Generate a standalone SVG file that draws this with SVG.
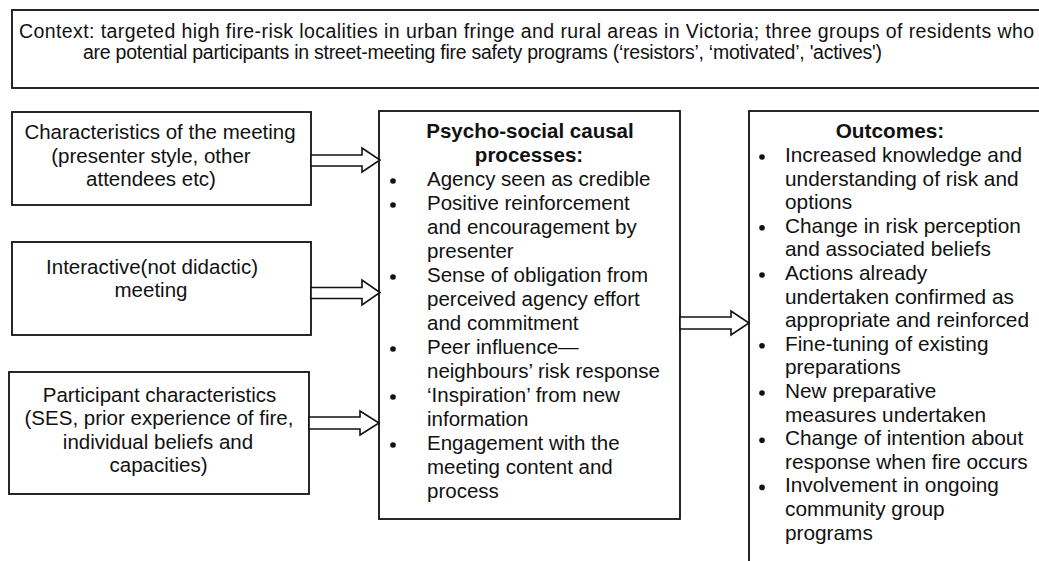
<svg xmlns="http://www.w3.org/2000/svg" width="1039" height="561" viewBox="0 0 1039 561">
<style>
  .box { fill: #ffffff; stroke: #111111; stroke-width: 1.8; }
  .arrow { fill: #ffffff; stroke: #111111; stroke-width: 1.6; stroke-linejoin: miter; }
  text { font-family: "Liberation Sans", Arial, sans-serif; fill: #111111; }
  .ctx { font-size: 19.5px; }
  .lbl { font-size: 20.5px; }
  .out { font-size: 20.8px; }
  .title { font-weight: bold; }
  .mid { text-anchor: middle; }
  .dot { fill: #111111; }
</style>
<rect width="1039" height="561" fill="#ffffff"/>

<g id="context">
  <rect class="box" x="12" y="10" width="1050" height="78"/>
  <text class="ctx" x="19" y="38" textLength="1015" lengthAdjust="spacing">Context: targeted high fire-risk localities in urban fringe and rural areas in Victoria; three groups of residents who</text>
  <text class="ctx" x="83" y="59" textLength="799" lengthAdjust="spacing">are potential participants in street-meeting fire safety programs (‘resistors’, ‘motivated’, 'actives')</text>
</g>

<g id="meeting-characteristics">
  <rect class="box" x="12" y="112" width="299" height="93"/>
  <text class="lbl mid" x="160" y="139">Characteristics of the meeting</text>
  <text class="lbl mid" x="151" y="162.5">(presenter style, other</text>
  <text class="lbl mid" x="151" y="186">attendees etc)</text>
</g>

<g id="interactive-meeting">
  <rect class="box" x="12" y="242" width="299" height="93"/>
  <text class="lbl mid" x="152" y="274">Interactive(not didactic)</text>
  <text class="lbl mid" x="151" y="297">meeting</text>
</g>

<g id="participant-characteristics">
  <rect class="box" x="9" y="372" width="300" height="122"/>
  <text class="lbl mid" x="159.5" y="402">Participant characteristics</text>
  <text class="lbl mid" x="159" y="425">(SES, prior experience of fire,</text>
  <text class="lbl mid" x="158" y="448.5">individual beliefs and</text>
  <text class="lbl mid" x="158.5" y="472">capacities)</text>
</g>

<g id="psycho-social">
  <rect class="box" x="379" y="111" width="301" height="408"/>
  <text class="lbl title mid" x="530" y="138">Psycho-social causal</text>
  <text class="lbl title mid" x="529" y="162">processes:</text>
  <circle class="dot" cx="393" cy="181" r="2.8"/>
  <text class="lbl" x="427" y="186">Agency seen as credible</text>
  <circle class="dot" cx="393" cy="205" r="2.8"/>
  <text class="lbl" x="427" y="210">Positive reinforcement</text>
  <text class="lbl" x="427" y="234">and encouragement by</text>
  <text class="lbl" x="427" y="258">presenter</text>
  <circle class="dot" cx="393" cy="277" r="2.8"/>
  <text class="lbl" x="427" y="282">Sense of obligation from</text>
  <text class="lbl" x="427" y="306">perceived agency effort</text>
  <text class="lbl" x="427" y="330">and commitment</text>
  <circle class="dot" cx="393" cy="349" r="2.8"/>
  <text class="lbl" x="427" y="354">Peer influence—</text>
  <text class="lbl" x="427" y="378">neighbours’ risk response</text>
  <circle class="dot" cx="393" cy="397" r="2.8"/>
  <text class="lbl" x="427" y="402">‘Inspiration’ from new</text>
  <text class="lbl" x="427" y="426">information</text>
  <circle class="dot" cx="393" cy="445" r="2.8"/>
  <text class="lbl" x="427" y="450">Engagement with the</text>
  <text class="lbl" x="427" y="474">meeting content and</text>
  <text class="lbl" x="427" y="498">process</text>
</g>

<g id="outcomes">
  <rect class="box" x="749" y="111" width="320" height="470"/>
  <text class="out title mid" x="890" y="138">Outcomes:</text>
  <circle class="dot" cx="762" cy="157" r="2.8"/>
  <text class="out" x="785" y="162">Increased knowledge and</text>
  <text class="out" x="785" y="185.6">understanding of risk and</text>
  <text class="out" x="785" y="209.2">options</text>
  <circle class="dot" cx="762" cy="227.8" r="2.8"/>
  <text class="out" x="785" y="232.8">Change in risk perception</text>
  <text class="out" x="785" y="256.4">and associated beliefs</text>
  <circle class="dot" cx="762" cy="275" r="2.8"/>
  <text class="out" x="785" y="280">Actions already</text>
  <text class="out" x="785" y="303.6">undertaken confirmed as</text>
  <text class="out" x="785" y="327.2">appropriate and reinforced</text>
  <circle class="dot" cx="762" cy="345.8" r="2.8"/>
  <text class="out" x="785" y="350.8">Fine-tuning of existing</text>
  <text class="out" x="785" y="374.4">preparations</text>
  <circle class="dot" cx="762" cy="393" r="2.8"/>
  <text class="out" x="785" y="398">New preparative</text>
  <text class="out" x="785" y="421.6">measures undertaken</text>
  <circle class="dot" cx="762" cy="440.2" r="2.8"/>
  <text class="out" x="785" y="445.2">Change of intention about</text>
  <text class="out" x="785" y="468.8">response when fire occurs</text>
  <circle class="dot" cx="762" cy="487.4" r="2.8"/>
  <text class="out" x="785" y="492.4">Involvement in ongoing</text>
  <text class="out" x="785" y="516">community group</text>
  <text class="out" x="785" y="539.6">programs</text>
</g>

<g id="connectors">
  <polygon class="arrow" points="311,155 362,155 362,148 380,160 362,172 362,166 311,166"/>
  <polygon class="arrow" points="311,287.5 362,287.5 362,280 380,292.5 362,305 362,298.5 311,298.5"/>
  <polygon class="arrow" points="309,417 360,417 360,411 379,423 360,435 360,429 309,429"/>
  <polygon class="arrow" points="680,317 731,317 731,311 749,323 731,335 731,329 680,329"/>
</g>
</svg>
